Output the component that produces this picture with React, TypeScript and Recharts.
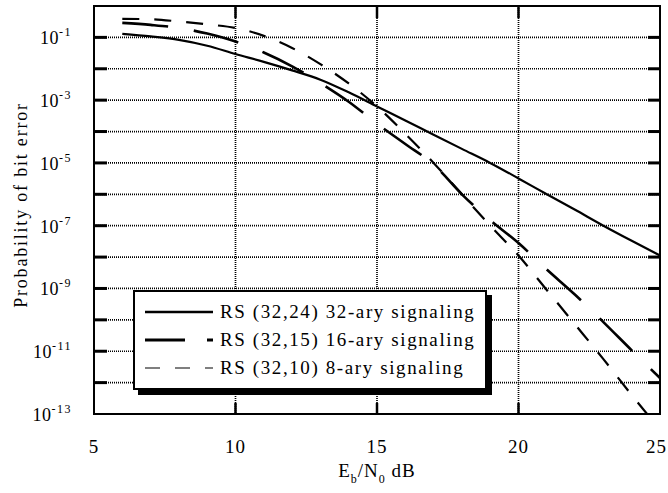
import React from 'react';
import { LineChart, Line, XAxis, YAxis, CartesianGrid, ReferenceArea, Legend } from 'recharts';

// Eb/N0 in dB
const ebN0 = [6, 7, 8, 9, 10, 11, 12, 13, 14, 15, 16, 17, 18, 19, 20, 21, 22, 23, 24, 25];

// bit error probability
const rs3224 = [1.3e-1, 1.07e-1, 8.3e-2, 5.4e-2, 2.95e-2, 1.66e-2, 8.9e-3, 4.5e-3, 1.78e-3, 6.3e-4,
  2.24e-4, 7.9e-5, 2.8e-5, 1.0e-5, 3.2e-6, 1.0e-6, 3.2e-7, 1.0e-7, 3.3e-8, 1.12e-8];
const rs3215 = [2.9e-1, 2.5e-1, 2.0e-1, 1.32e-1, 7.4e-2, 3.3e-2, 1.2e-2, 3.5e-3, 8.9e-4, 1.78e-4,
  4.0e-5, 8.9e-6, 1.0e-6, 1.5e-7, 2.8e-8, 4.0e-9, 6.3e-10, 8.5e-11, 1.07e-11, 1.4e-12];
const rs3210 = [3.9e-1, 3.8e-1, 3.2e-1, 2.6e-1, 2.0e-1, 1.12e-1, 4.6e-2, 1.4e-2, 3.4e-3, 6.3e-4,
  8.5e-5, 1.0e-5, 1.0e-6, 1.0e-7, 1.12e-8, 8.9e-10, 7.1e-11, 5.6e-12, 4.0e-13, 3.2e-14];

const seriesNames = ['RS (32,24) 32-ary signaling', 'RS (32,15) 16-ary signaling', 'RS (32,10) 8-ary signaling'];
const xTicks = [5, 10, 15, 20, 25];
const yTicks = [1, 1e-1, 1e-2, 1e-3, 1e-4, 1e-5, 1e-6, 1e-7, 1e-8, 1e-9, 1e-10, 1e-11, 1e-12, 1e-13];

const data = ebN0.map((x, i) => ({ x, rs3224: rs3224[i], rs3215: rs3215[i], rs3210: rs3210[i] }));

const lineStyles = [
  { key: 'rs3224', width: 2.2, dash: undefined, legendWidth: 2.4, legendDash: undefined },
  { key: 'rs3215', width: 2.6, dash: '46 26', legendWidth: 2.8, legendDash: '40 22' },
  { key: 'rs3210', width: 2.2, dash: '17 15', legendWidth: 1.2, legendDash: '15 15' },
];

const FONT = '"Liberation Serif", "Times New Roman", serif';
const W = 668;
const H = 493;
const MARGIN = { top: 6, right: 8, left: 0, bottom: 0 };
const Y_AXIS_W = 94;
const X_AXIS_H = 79;
const PLOT_LEFT = MARGIN.left + Y_AXIS_W;
const PLOT_RIGHT = W - MARGIN.right;
const PLOT_TOP = MARGIN.top;
const PLOT_BOTTOM = H - MARGIN.bottom - X_AXIS_H;

const YTick = (props: any) => {
  const { y, payload } = props;
  const exp = Math.round(Math.log10(payload.value));
  const inner = exp < 0 && exp > -13;
  const showLabel = exp < 0 && exp % 2 !== 0;
  return (
    <g>
      {inner && <line x1={PLOT_LEFT} x2={PLOT_LEFT + 13} y1={y} y2={y} stroke="#000" strokeWidth={3} />}
      {inner && <line x1={PLOT_RIGHT - 12} x2={PLOT_RIGHT} y1={y} y2={y} stroke="#000" strokeWidth={3} />}
      {showLabel && (
        <text x={PLOT_LEFT - 22} y={y + 7} textAnchor="end" fontFamily={FONT} fontSize={18} letterSpacing={0.5} fill="#000">
          10<tspan dy={-8} fontSize={12} letterSpacing={1.5}>{exp}</tspan>
        </text>
      )}
    </g>
  );
};

const XTick = (props: any) => {
  const { x, payload } = props;
  const inner = payload.value > 5 && payload.value < 25;
  const last = payload.value === 25;
  return (
    <g>
      {inner && <line x1={x} x2={x} y1={PLOT_BOTTOM - 11} y2={PLOT_BOTTOM} stroke="#000" strokeWidth={2.5} />}
      {inner && <line x1={x} x2={x} y1={PLOT_TOP} y2={PLOT_TOP + 12} stroke="#000" strokeWidth={2.5} />}
      <text
        x={last ? W - 1 : x}
        y={PLOT_BOTTOM + 39}
        textAnchor={last ? 'end' : 'middle'}
        fontFamily={FONT}
        fontSize={19}
        letterSpacing={1}
        fill="#000"
      >
        {payload.value}
      </text>
    </g>
  );
};

const YTitle = () => {
  const cx = 27;
  const cy = (PLOT_TOP + PLOT_BOTTOM) / 2 - 5;
  return (
    <text x={cx} y={cy} transform={`rotate(-90, ${cx}, ${cy})`} textAnchor="middle" fontFamily={FONT} fontSize={18} letterSpacing={1.8} fill="#000">
      Probability of bit error
    </text>
  );
};

const XTitle = () => {
  const cx = (PLOT_LEFT + PLOT_RIGHT) / 2;
  return (
    <text x={cx} y={PLOT_BOTTOM + 63} textAnchor="middle" fontFamily={FONT} fontSize={19} letterSpacing={1} fill="#000">
      E<tspan dy={6} fontSize={12}>b</tspan><tspan dy={-6}>/N</tspan><tspan dy={6} fontSize={12}>0</tspan><tspan dy={-6}> dB</tspan>
    </text>
  );
};

const LegendBox = () => (
  <div style={{ width: 354, height: 100, boxSizing: 'border-box', border: '2px solid #000', background: '#fff', boxShadow: '5px 5px 0 #000' }}>
    <svg width={350} height={96} style={{ display: 'block' }}>
      {seriesNames.map((name, i) => {
        const cy = 20 + i * 28;
        const st = lineStyles[i];
        return (
          <g key={name}>
            <line x1={10} x2={78} y1={cy} y2={cy} stroke="#000" strokeWidth={st.legendWidth} strokeDasharray={st.legendDash} />
            <text x={85} y={cy + 6} fontFamily={FONT} fontSize={19} letterSpacing={1.6} fill="#000">{name}</text>
          </g>
        );
      })}
    </svg>
  </div>
);

export default function App() {
  return (
    <div style={{ position: 'absolute', left: 0, top: 0 }}>
      <LineChart width={W} height={H} data={data} margin={MARGIN}>
        <CartesianGrid stroke="#000" strokeDasharray="1 1" strokeWidth={1.7} />
        <XAxis
          dataKey="x"
          type="number"
          domain={[5, 25]}
          ticks={xTicks}
          interval={0}
          height={X_AXIS_H}
          tickLine={false}
          tickSize={0}
          axisLine={false}
          tick={XTick}
          label={<XTitle />}
        />
        <YAxis
          type="number"
          scale="log"
          domain={[1e-13, 1]}
          allowDataOverflow
          ticks={yTicks}
          interval={0}
          width={Y_AXIS_W}
          tickLine={false}
          tickSize={0}
          axisLine={false}
          tick={YTick}
          label={<YTitle />}
        />
        <ReferenceArea x1={5} x2={25} y1={1e-13} y2={1} fill="none" fillOpacity={0} stroke="#000" strokeWidth={2} />
        {lineStyles.map((st, i) => (
          <Line
            key={st.key}
            type="monotone"
            dataKey={st.key}
            name={seriesNames[i]}
            stroke="#000"
            strokeWidth={st.width}
            strokeDasharray={st.dash}
            dot={false}
            isAnimationActive={false}
          />
        ))}
        <Legend layout="vertical" align="center" verticalAlign="middle" wrapperStyle={{ left: 133, top: 290 }} content={() => <LegendBox />} />
      </LineChart>
    </div>
  );
}
